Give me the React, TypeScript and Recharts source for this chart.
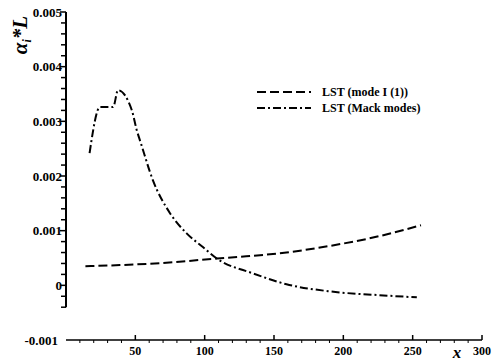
import React from "react";
import {
  LineChart,
  Line,
  XAxis,
  YAxis,
  Legend,
  ReferenceLine,
  Customized,
} from "recharts";

// LST (mode I (1)) – dashed
const modeX = [14, 39, 70, 109, 130, 159, 178, 190, 226, 256];
const modeY = [0.00035, 0.00037, 0.00041, 0.00049, 0.00053, 0.0006, 0.00067, 0.00072, 0.0009, 0.0011];

// LST (Mack modes) – dash-dot
const mackX = [17, 24.5, 34, 37.5, 47.5, 51, 54, 62.7, 75, 87, 98.7, 108.8, 134.7, 159, 190, 226, 253];
const mackY = [
  0.00242, 0.00326, 0.00326, 0.00357, 0.0032, 0.00284, 0.0026, 0.00192, 0.00132,
  0.00095, 0.0007, 0.00049, 0.00022, 0.00002, -0.00011, -0.00018, -0.00022,
];

const xTicks = [10, 20, 30, 40, 50, 60, 70, 80, 90, 100, 110, 120, 130, 140, 150, 160, 170, 180, 190, 200, 210, 220, 230, 240, 250, 260, 270, 280, 290, 300];
const yTicks = [
  -0.001, -0.0004, -0.0002, 0, 0.0002, 0.0004, 0.0006, 0.0008, 0.001, 0.0012, 0.0014, 0.0016, 0.0018,
  0.002, 0.0022, 0.0024, 0.0026, 0.0028, 0.003, 0.0032, 0.0034, 0.0036, 0.0038, 0.004, 0.0042,
  0.0044, 0.0046, 0.0048, 0.005,
];

const modeData = modeX.map((x, i) => ({ x, y: modeY[i] }));
const mackData = mackX.map((x, i) => ({ x, y: mackY[i] }));

const FONT = "Liberation Serif, Times New Roman, serif";

function renderYTick(props: any) {
  const { y, payload } = props;
  const v = payload.value as number;
  const major = Math.abs(v * 1000 - Math.round(v * 1000)) < 1e-6;
  const label = v === 0 ? "0" : v.toFixed(3);
  const ax = 66;
  if (v === -0.001) {
    return (
      <text key={v} x={ax - 8} y={y} dy="0.35em" textAnchor="end" fontSize={13} fontFamily={FONT} fontWeight="bold" fill="#000">
        {label}
      </text>
    );
  }
  return (
    <g key={v}>
      <line x1={ax - (major ? 6 : 5)} x2={ax} y1={y} y2={y} stroke="#000" strokeWidth={1.5} />
      {major && (
        <text x={ax - 4} y={y} dy="0.35em" textAnchor="end" fontSize={13} fontFamily={FONT} fontWeight="bold" fill="#000">
          {label}
        </text>
      )}
    </g>
  );
}

function renderXTick(props: any) {
  const { x, payload } = props;
  const v = payload.value as number;
  const major = v % 50 === 0;
  const ay = 340;
  return (
    <g key={v}>
      {major ? (
        <line x1={x} x2={x} y1={ay - 5} y2={ay} stroke="#000" strokeWidth={1.5} />
      ) : (
        <line x1={x} x2={x} y1={ay} y2={ay + 3} stroke="#000" strokeWidth={1} />
      )}
      {major && (
        <text x={x} y={ay + 15} textAnchor="middle" fontSize={12} fontFamily={FONT} fontWeight="bold" fill="#000">
          {v}
        </text>
      )}
    </g>
  );
}

function AxisTitles() {
  return (
    <g fontFamily={FONT} fontWeight="bold" fontStyle="italic" fill="#000">
      <text transform="translate(27,35) rotate(-90)" textAnchor="middle" fontSize={21}>
        α<tspan fontSize={12} dy={4}>i</tspan>
        <tspan dy={-4}>*L</tspan>
      </text>
      <text x={457} y={358} textAnchor="middle" fontSize={17}>
        x
      </text>
    </g>
  );
}

function LegendContent() {
  const rows = [
    { name: "LST (mode I (1))", dash: "9 4" },
    { name: "LST (Mack modes)", dash: "8 3 2 3" },
  ];
  return (
    <div style={{ fontFamily: FONT, fontSize: 12, fontWeight: "bold", lineHeight: "16px", color: "#000" }}>
      {rows.map((r) => (
        <div key={r.name} style={{ display: "flex", alignItems: "center", height: 16 }}>
          <svg width={54} height={6} style={{ marginRight: 11 }}>
            <line x1={0} x2={54} y1={3} y2={3} stroke="#000" strokeWidth={2} strokeDasharray={r.dash} />
          </svg>
          <span>{r.name}</span>
        </div>
      ))}
    </div>
  );
}

export default function App() {
  return (
    <div style={{ position: "absolute", left: 0, top: 0, width: 496, height: 364, background: "#fff" }}>
      <LineChart width={496} height={364} margin={{ top: 12, right: 14, left: 10, bottom: 4 }}>
        <XAxis
          type="number"
          dataKey="x"
          domain={[0, 300]}
          ticks={xTicks}
          interval={0}
          tickLine={false}
          tick={renderXTick}
          height={20}
          axisLine={{ stroke: "#000", strokeWidth: 1.5 }}
          allowDataOverflow
        />
        <YAxis
          type="number"
          domain={[-0.001, 0.005]}
          ticks={yTicks}
          interval={0}
          tickLine={false}
          tick={renderYTick}
          width={56}
          axisLine={false}
          allowDataOverflow
        />
        <ReferenceLine
          segment={[
            { x: 0, y: -0.0004 },
            { x: 0, y: 0.005 },
          ]}
          stroke="#000"
          strokeWidth={2}
        />
        <Legend
          layout="horizontal"
          verticalAlign="middle"
          align="center"
          content={<LegendContent />}
          wrapperStyle={{ top: 84, left: 257, width: 200 }}
        />
        <Line
          data={modeData}
          dataKey="y"
          type="monotone"
          stroke="#000"
          strokeWidth={2}
          strokeDasharray="9 4"
          dot={false}
          isAnimationActive={false}
          name="LST (mode I (1))"
        />
        <Line
          data={mackData}
          dataKey="y"
          type="monotone"
          stroke="#000"
          strokeWidth={2}
          strokeDasharray="8 3 2 3"
          dot={false}
          isAnimationActive={false}
          name="LST (Mack modes)"
        />
        <Customized component={<AxisTitles />} />
      </LineChart>
    </div>
  );
}
